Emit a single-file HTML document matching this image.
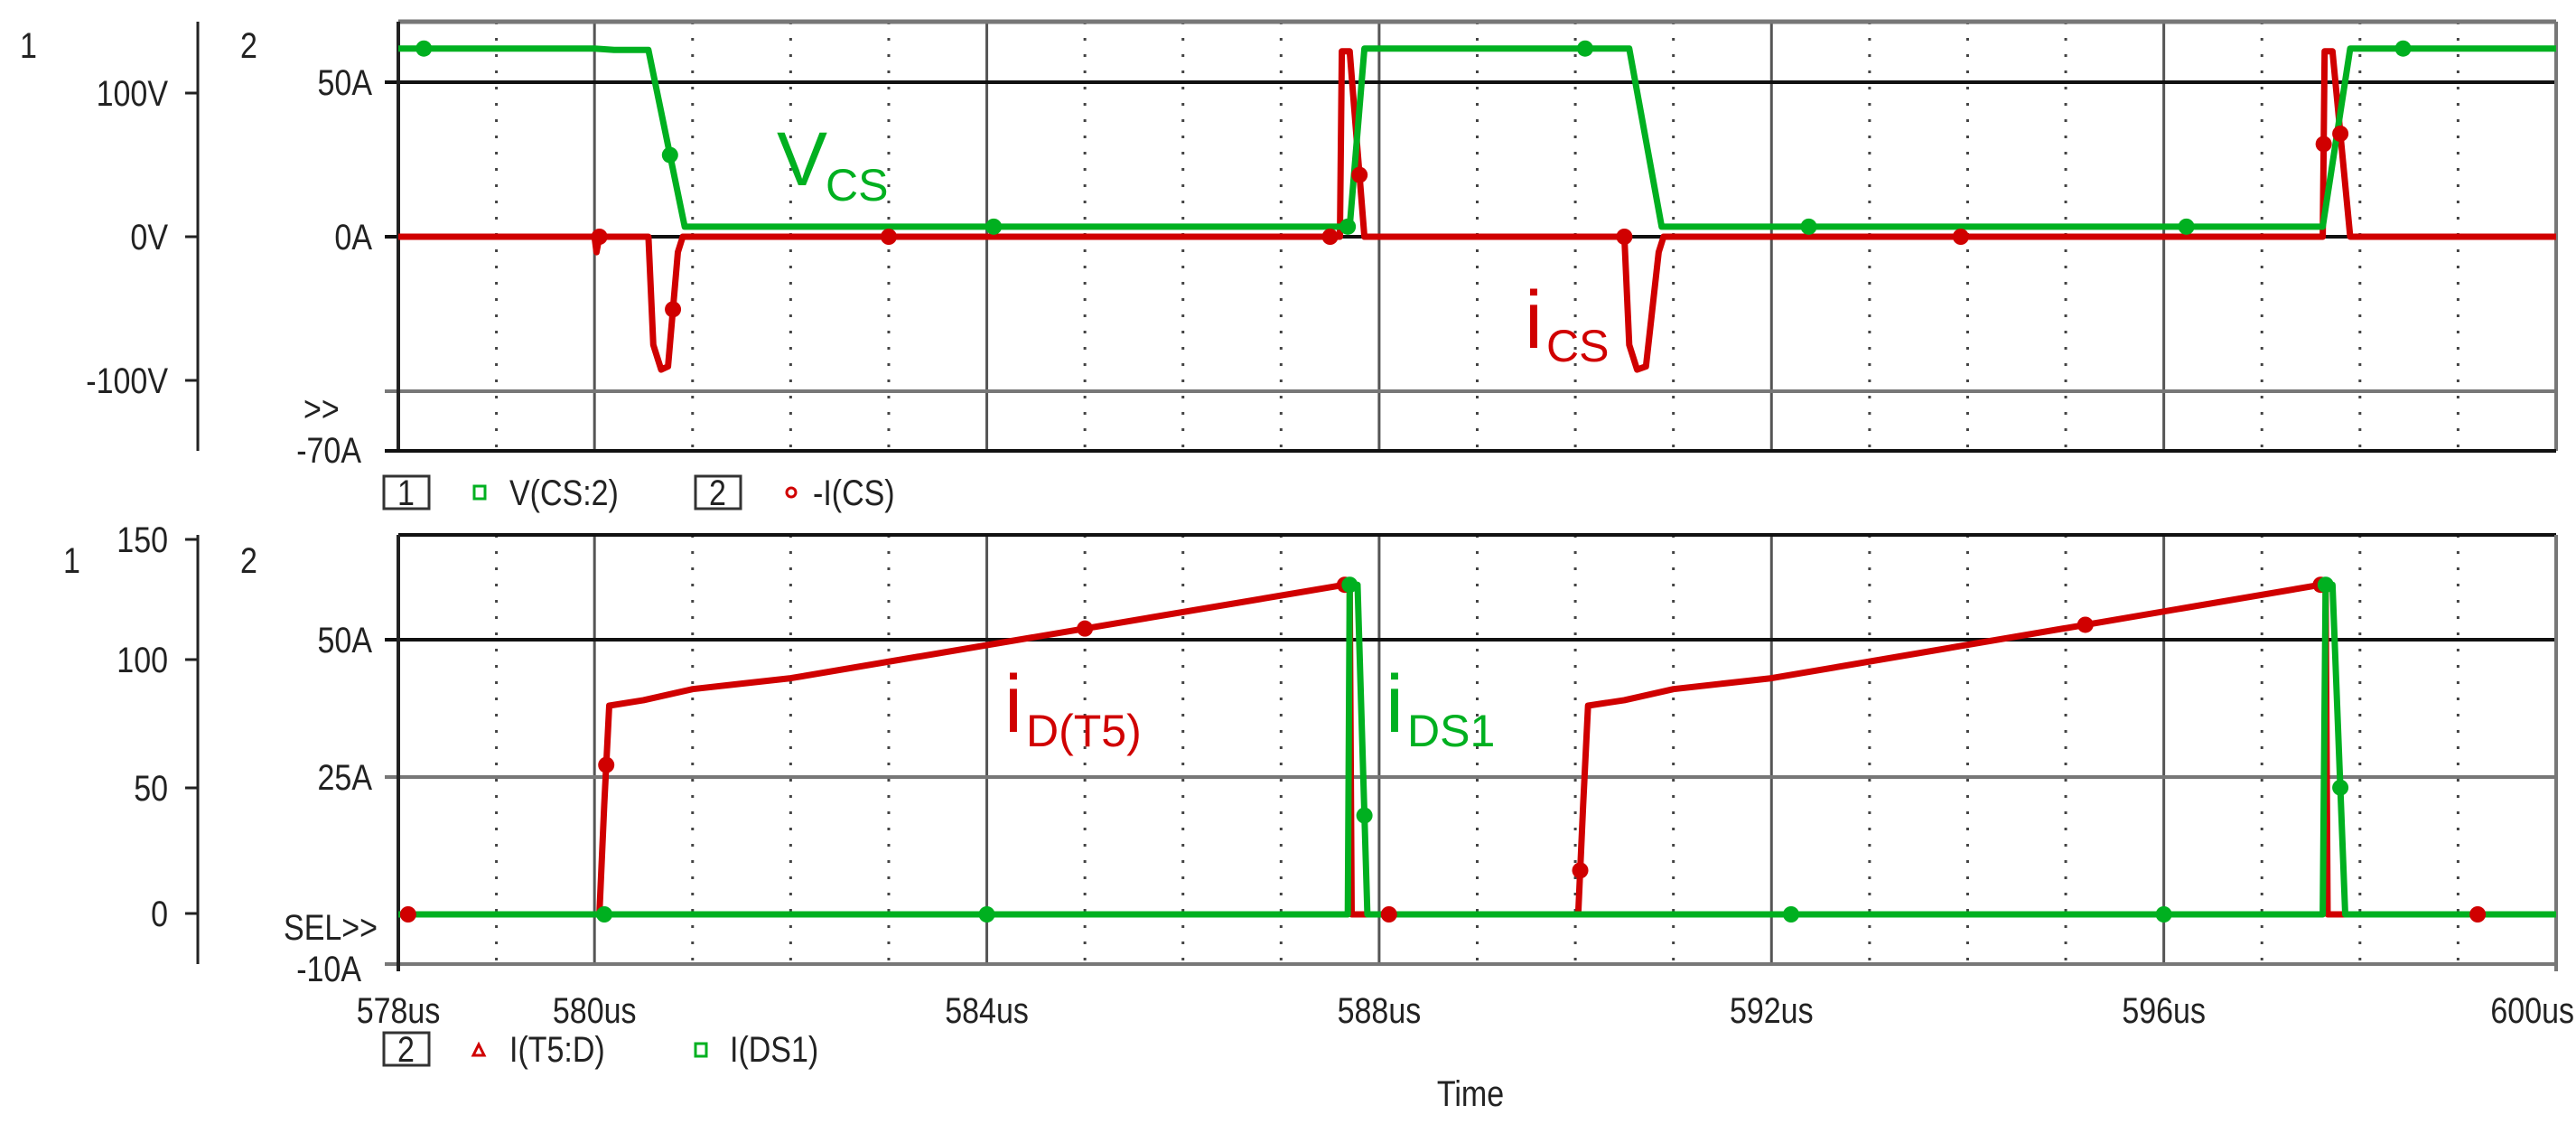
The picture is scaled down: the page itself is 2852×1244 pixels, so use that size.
<!DOCTYPE html>
<html><head><meta charset="utf-8"><style>
body{margin:0;background:#fff}
svg{display:block;font-family:"Liberation Sans",sans-serif}
.t{font-size:40px;fill:#222}
</style></head><body>
<svg id="c" width="2852" height="1244" viewBox="0 0 2852 1244"></svg>
<script>
// ---- data ----
const vcsT=[578,580.0,580.2,580.55,580.92,587.7,587.85,590.55,590.88,597.62,597.9,600];
const vcsV=[131,131,130,130,7,7,131,131,7,7,131,131];
const icsT=[578,580.0,580.02,580.05,580.55,580.6,580.68,580.75,580.85,580.9,587.6,587.62,587.7,587.85,590.5,590.55,590.63,590.72,590.85,590.9,597.62,597.64,597.72,597.9,600];
const icsV=[0,0,-5,0,0,-35,-43,-42,-5,0,0,60,60,0,0,-35,-43,-42,-5,0,0,60,60,0,0];
const idT=[578,580.05,580.1,580.15,580.5,581,581.5,582,587.65,587.7,587.72,590.03,590.08,590.13,590.5,591,591.5,592,597.6,597.65,597.67,600];
const idV=[0,0,20,38,39,41,42,43,60,60,0,0,20,38,39,41,42,43,60,60,0,0];
const dsT=[578,587.68,587.7,587.78,587.88,597.62,597.65,597.72,597.85,600];
const dsV=[0,0,60,60,0,0,60,60,0,0];
const xTicks=[578,580,584,588,592,596,600];
const xTickLabels=["578us","580us","584us","588us","592us","596us","600us"];
const mkVcs=[578.26,580.77,584.07,587.68,590.1,592.38,596.23,598.44];
const mkIcs=[580.05,580.8,583,587.5,587.8,590.5,593.93,597.63,597.8];
const mkDs=[580.1,584,587.7,587.85,592.2,596,597.65,597.8];
const mkId=[578.1,580.12,585,587.65,588.1,590.05,595.2,597.6,599.2];
// ---- scales ----
const X0=441,X1=2830;
const x=t=>X0+(t-578)/22*(X1-X0);
const yV=v=>262-v*1.59;
const yA1=a=>262-a*3.42;
const yA2=a=>1012-a*6.08;
const S=document.getElementById('c');
function el(tag,attrs,txt){const e=document.createElementNS('http://www.w3.org/2000/svg',tag);for(const k in attrs)e.setAttribute(k,attrs[k]);if(txt!==undefined)e.textContent=txt;S.appendChild(e);return e;}
function tx(X,Y,s,anchor,extra){const a={x:0,y:0,class:'t',transform:'translate('+X+','+Y+') scale(0.85,1)'};if(anchor)a['text-anchor']=anchor;if(extra)for(const k in extra)a[k]=extra[k];return el('text',a,s);}
function interp(T,V,t){for(let i=1;i<T.length;i++){if(t<=T[i]){const f=(t-T[i-1])/(T[i]-T[i-1]||1);return V[i-1]+f*(V[i]-V[i-1]);}}return V[V.length-1];}
function grid(top,bot){
  for(let u=579;u<600;u++){
    const solid=[580,584,588,592,596].includes(u);
    const g=el('line',{x1:x(u),x2:x(u),y1:top,y2:bot,stroke:solid?'#555':'#444','stroke-width':3,'stroke-dasharray':solid?'':'3 15'});
    
    
  }
}
// ---- top plot ----
grid(24,499);
[[yA1(50),'#111'],[yA1(0),'#111'],[yA1(-50),'#777']].forEach(([y,c])=>{const l=el('line',{x1:426,x2:X1,y1:y,y2:y,stroke:c,'stroke-width':4});});
el('line',{x1:X0,x2:X1,y1:24,y2:24,stroke:'#777','stroke-width':5});
el('line',{x1:X0,x2:X0,y1:24,y2:499,stroke:'#222','stroke-width':4});
el('line',{x1:X1,x2:X1,y1:24,y2:499,stroke:'#777','stroke-width':4});
el('line',{x1:426,x2:X1,y1:499,y2:499,stroke:'#111','stroke-width':4});
el('line',{x1:219,x2:219,y1:24,y2:499,stroke:'#222','stroke-width':3});
[[100,'100V'],[0,'0V'],[-100,'-100V']].forEach(([v,s])=>{el('line',{x1:205,x2:219,y1:yV(v),y2:yV(v),stroke:'#222','stroke-width':3});const t=tx(186,yV(v)+14,s,'end');});
tx(22,64,'1');tx(266,64,'2');
[[50,'50A'],[0,'0A']].forEach(([a,s])=>{const t=tx(412,yA1(a)+14,s,'end');});
tx(336,466,'>>');
tx(400,512,'-70A','end');
function path(T,V,fx,fy,col,name){let d='';T.forEach((t,i)=>{d+=(i?'L':'M')+fx(t).toFixed(1)+' '+fy(V[i]).toFixed(1);});const p=el('path',{d:d,fill:'none',stroke:col,'stroke-width':7,'stroke-linejoin':'round'});return p;}
function marks(ts,T,V,fy,col,name){ts.forEach(t=>{const m=el('circle',{cx:x(t),cy:fy(interp(T,V,t)),r:9,fill:col});});}
const G='#00b020',R='#d00000';
path(icsT,icsV,x,yA1,R,'ics-trace');
path(vcsT,vcsV,x,yV,G,'vcs-trace');
marks(mkVcs,vcsT,vcsV,yV,G,'vcs-marker');
marks(mkIcs,icsT,icsV,yA1,R,'ics-marker');
let a=el('text',{x:860,y:205,fill:G,'font-size':84},'V');
el('text',{x:914,y:222,fill:G,'font-size':50},'CS');
a=el('text',{x:1688,y:385,fill:R,'font-size':90},'i');
el('text',{x:1712,y:400,fill:R,'font-size':50},'CS');
// legend top
el('rect',{x:425,y:527,width:50,height:36,fill:'none',stroke:'#333','stroke-width':3});
tx(440,559,'1');
el('rect',{x:525,y:538,width:12,height:14,fill:'none',stroke:G,'stroke-width':3});
tx(564,559,'V(CS:2)');
el('rect',{x:770,y:527,width:50,height:36,fill:'none',stroke:'#333','stroke-width':3});
tx(785,559,'2');
el('circle',{cx:876,cy:545,r:5,fill:'none',stroke:R,'stroke-width':3});
tx(900,559,'-I(CS)');
// ---- bottom plot ----
grid(592,1067);
[[yA2(50),'#111'],[yA2(25),'#777'],[1067,'#777']].forEach(([y,c])=>{const l=el('line',{x1:426,x2:X1,y1:y,y2:y,stroke:c,'stroke-width':4});});
el('line',{x1:X0,x2:X1,y1:592,y2:592,stroke:'#111','stroke-width':4});
el('line',{x1:X0,x2:X0,y1:592,y2:1075,stroke:'#222','stroke-width':4});
el('line',{x1:X1,x2:X1,y1:592,y2:1075,stroke:'#777','stroke-width':4});
el('line',{x1:219,x2:219,y1:592,y2:1067,stroke:'#222','stroke-width':3});
[[150,597],[100,730],[50,872],[0,1011]].forEach(([v,y])=>{el('line',{x1:205,x2:219,y1:y,y2:y,stroke:'#222','stroke-width':3});const t=tx(186,y+14,String(v),'end');});
tx(70,634,'1');tx(266,634,'2');
[[50,'50A'],[25,'25A']].forEach(([v,s])=>{const t=tx(412,yA2(v)+14,s,'end');});
tx(418,1040,'SEL>>','end');
tx(400,1086,'-10A','end');
xTicks.forEach((t,i)=>{const last=i===xTicks.length-1;const l=tx(last?2850:x(t),1132,xTickLabels[i],last?'end':'middle');});
path(idT,idV,x,yA2,R,'id-t5-trace');
path(dsT,dsV,x,yA2,G,'ids1-trace');
marks(mkId,idT,idV,yA2,R,'id-t5-marker');
marks(mkDs,dsT,dsV,yA2,G,'ids1-marker');
a=el('text',{x:1112,y:810,fill:R,'font-size':90},'i');
el('text',{x:1136,y:826,fill:R,'font-size':50},'D(T5)');
a=el('text',{x:1534,y:810,fill:G,'font-size':90},'i');
el('text',{x:1558,y:826,fill:G,'font-size':50},'DS1');
// legend bottom
el('rect',{x:425,y:1143,width:50,height:36,fill:'none',stroke:'#333','stroke-width':3});
tx(440,1175,'2');
el('path',{d:'M524 1168 L530 1156 L536 1168 Z',fill:'none',stroke:R,'stroke-width':3});
tx(564,1175,'I(T5:D)');
el('rect',{x:770,y:1155,width:12,height:14,fill:'none',stroke:G,'stroke-width':3});
tx(808,1175,'I(DS1)');
tx(1628,1224,'Time','middle');
</script>
</body></html>
